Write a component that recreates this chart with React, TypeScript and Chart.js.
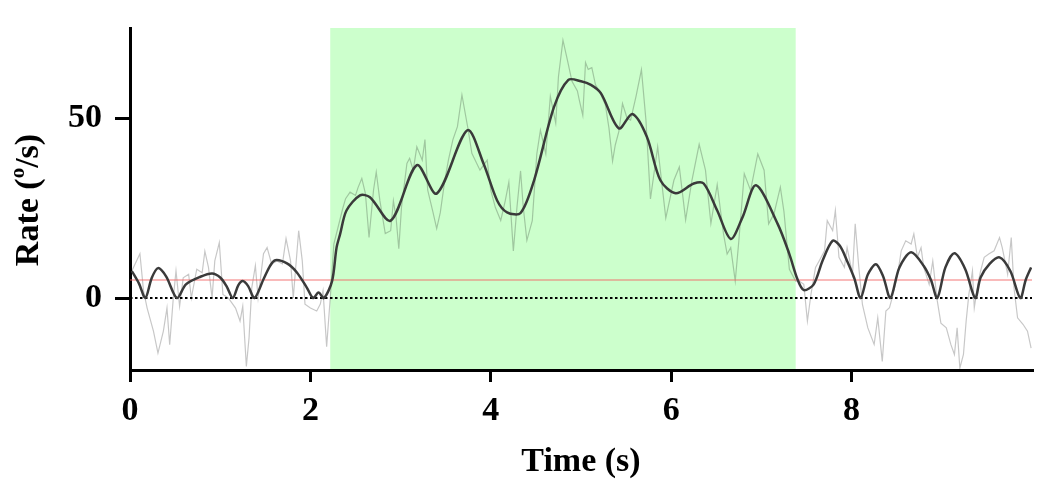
import React, { useEffect, useRef } from "react";
import { Chart, registerables } from "chart.js";

Chart.register(...registerables);

// ---- data ----
const rawTime = [
  0.02, 0.11, 0.15, 0.19, 0.26, 0.31, 0.37, 0.41, 0.44, 0.48, 0.51, 0.55, 0.59, 0.65, 0.68, 0.74, 0.8, 0.83, 0.87, 0.91,
  0.94, 0.99, 1.03, 1.09, 1.17, 1.22, 1.25, 1.29, 1.32, 1.35, 1.39, 1.42, 1.48, 1.52, 1.57, 1.63, 1.69, 1.73, 1.78, 1.81,
  1.87, 1.91, 1.94, 2.0, 2.07, 2.11, 2.14, 2.18, 2.22, 2.26, 2.31, 2.36, 2.39, 2.44, 2.5, 2.53, 2.57, 2.61, 2.65, 2.7,
  2.73, 2.77, 2.83, 2.89, 2.92, 2.95, 2.98, 3.01, 3.07, 3.1, 3.14, 3.18, 3.24, 3.27, 3.3, 3.36, 3.4, 3.44, 3.49, 3.53,
  3.58, 3.63, 3.68, 3.75, 3.79, 3.88, 3.96, 4.0, 4.05, 4.11, 4.16, 4.2, 4.25, 4.29, 4.33, 4.36, 4.4, 4.46, 4.51, 4.55,
  4.61, 4.66, 4.72, 4.75, 4.8, 4.85, 4.9, 4.96, 4.98, 5.02, 5.05, 5.08, 5.12, 5.16, 5.22, 5.27, 5.31, 5.35, 5.38, 5.42,
  5.46, 5.51, 5.55, 5.61, 5.67, 5.72, 5.77, 5.85, 5.94, 6.03, 6.09, 6.16, 6.23, 6.31, 6.38, 6.44, 6.51, 6.58, 6.62, 6.66,
  6.71, 6.75, 6.81, 6.88, 6.96, 7.03, 7.08, 7.14, 7.21, 7.25, 7.31, 7.38, 7.42, 7.47, 7.51, 7.55, 7.6, 7.64, 7.7, 7.73,
  7.79, 7.82, 7.86, 7.92, 7.95, 8.01, 8.04, 8.08, 8.12, 8.18, 8.25, 8.29, 8.34, 8.38, 8.42, 8.46, 8.51, 8.55, 8.6, 8.66,
  8.69, 8.73, 8.77, 8.8, 8.86, 8.9, 8.95, 8.99, 9.05, 9.1, 9.14, 9.17, 9.2, 9.24, 9.27, 9.3, 9.34, 9.36, 9.4, 9.43,
  9.47, 9.52, 9.58, 9.64, 9.67, 9.73, 9.77, 9.8, 9.84, 9.9, 9.95, 9.99,
];
const rawRate = [
  7.5, 12.3, 2, -2.8, -9.2, -15.3, -9.2, -2.8, -13, 0, 7.5, -2.3, 5.6, 6.6, 0, 8, 7, 13, 8.5, 0,
  10.3, 15.4, 1, 0, -2.8, -6.4, -2.3, -19, -11, 2.8, 9, 0, 12.3, 14, 9.5, 10.3, 9.5, 16.5, 10.3, 0,
  18.7, 10.3, -1.7, -2.8, -3.6, -1.7, 2, -13.5, 0, 15, 20, 25, 27.6, 29.4, 28.5, 30.8, 33.2, 29, 16.8, 30,
  35, 27.1, 17.9, 18.7, 27, 22.3, 13.7, 25.2, 37.4, 38.8, 35.5, 42, 38.3, 44, 30, 23.7, 19.3, 23.7, 32.7, 38.3,
  44, 47.6, 56.4, 46.6, 40.2, 35.5, 38.3, 29.9, 25.2, 21.5, 27, 32.2, 13.1, 25.2, 35.3, 25.2, 16, 21.5, 40, 46.6,
  40, 56, 48.6, 61.5, 71.6, 66, 60.2, 57.5, 55.1, 50.7, 65.4, 63.5, 64, 59.3, 56.5, 53.7, 47.2, 38, 42.5, 46.3,
  54, 50, 49.4, 56, 63.4, 49.4, 27.5, 42, 22.2, 32.7, 36.4, 21.7, 32.7, 42.7, 35.5, 20.7, 31.5, 17.8, 12.2, 14,
  4.7, 15.9, 34.5, 29.9, 40, 35.5, 20.6, 23.4, 30.8, 24, 8, 4.7, 4.7, 3.8, -6.4, 1.1, 8.5, 10.3, 13.1, 21.5,
  18.7, 24.3, 11.3, 8.5, 14, 6.6, 20.6, 8.5, -1.8, -8.3, -12.9, -5.5, -17.6, -3.6, -2.7, 1, 6.6, 13.1, 15.9, 15,
  17.8, 11.3, 14, 8.5, 3.8, 10.3, -0.8, -7, -8.3, -12.9, -15.7, -8.3, -19.5, -15.7, -6.4, 1, 7.5, -2.7, 3.8, 7.5,
  11.3, 12.2, 13.1, 16.8, 14, 6.6, 16.8, 2.9, -5.5, -7.3, -9.2, -13.9,
];

const smoothTime = [
  0.02, 0.1, 0.17, 0.24, 0.31, 0.4, 0.52, 0.62, 0.78, 0.91, 1.0, 1.07, 1.14, 1.2, 1.25, 1.31, 1.38, 1.48, 1.55, 1.61,
  1.74, 1.85, 1.96, 2.03, 2.09, 2.15, 2.24, 2.29, 2.33, 2.4, 2.55, 2.66, 2.89, 3.18, 3.4, 3.74, 3.92, 4.07, 4.18, 4.33,
  4.48, 4.7, 4.86, 5.0, 5.11, 5.22, 5.42, 5.57, 5.73, 5.88, 6.05, 6.25, 6.36, 6.51, 6.66, 6.79, 6.94, 7.18, 7.31, 7.4,
  7.47, 7.58, 7.68, 7.79, 7.87, 7.95, 8.03, 8.1, 8.18, 8.27, 8.35, 8.43, 8.53, 8.66, 8.8, 8.88, 8.95, 9.04, 9.14, 9.26,
  9.37, 9.43, 9.53, 9.64, 9.76, 9.87, 9.93, 9.99,
];
const smoothRate = [
  7.5, 4.0, 0, 5.5, 8.3, 6.0, 0, 3.8, 5.9, 6.8, 5.7, 3.3, 0, 3.5, 4.7, 3.3, 0, 5.2, 8.8, 10.5,
  9.6, 7.1, 2.9, 0, 1.5, 0, 4.7, 14, 17.8, 24.3, 28.5, 28, 21.5, 36.9, 29, 46.6, 37.3, 27.1, 23.8, 23.6,
  32.7, 53, 60.6, 60.2, 59.2, 56.9, 47.1, 51.1, 44.8, 32.7, 29.1, 31.8, 31.8, 24.3, 16.4, 22.4, 31.3, 20.6, 12.2, 5.2,
  2.2, 3.8, 10.5, 15.9, 14.5, 10.3, 5.5, 0, 6.5, 9.4, 6.0, 0, 8.5, 12.7, 8.9, 5, 0, 8.5, 12.4, 8.0,
  0, 5.7, 9.5, 11.3, 7.5, 0, 5, 8.5,
];

const xTicks = [0, 2, 4, 6, 8];
const yTicks = [0, 50];
const xMin = 0;
const xMax = 10;
const yMin = -20;
const yMax = 75;
const stimStart = 2.22;
const stimEnd = 7.38;
const thresholdRate = 5;
const baselineRate = 0;

const FONT = '"Liberation Serif", "Times New Roman", serif';

const stimPlugin = {
  id: "stimBand",
  beforeDraw(chart: any) {
    const { ctx, chartArea, scales } = chart;
    const x1 = scales.x.getPixelForValue(stimStart);
    const x2 = scales.x.getPixelForValue(stimEnd);
    ctx.save();
    ctx.fillStyle = "rgb(204,255,204)";
    ctx.fillRect(x1, chartArea.top, x2 - x1, chartArea.bottom - chartArea.top);
    ctx.restore();
  },
};

const yTitlePlugin = {
  id: "yTitle",
  afterDraw(chart: any) {
    const { ctx } = chart;
    const big = `bold 34px ${FONT}`;
    const small = `bold 21px ${FONT}`;
    const p1 = "Rate (";
    const p2 = "o";
    const p3 = "/s)";
    ctx.save();
    ctx.font = big;
    const w1 = ctx.measureText(p1).width;
    const w3 = ctx.measureText(p3).width;
    ctx.font = small;
    const w2 = ctx.measureText(p2).width;
    const total = w1 + w2 + w3;
    ctx.translate(29, 200);
    ctx.rotate(-Math.PI / 2);
    ctx.fillStyle = "#000";
    ctx.textBaseline = "middle";
    ctx.textAlign = "left";
    let x = -total / 2;
    ctx.font = big;
    ctx.fillText(p1, x, 0);
    x += w1;
    ctx.font = small;
    ctx.fillText(p2, x, -10);
    x += w2;
    ctx.font = big;
    ctx.fillText(p3, x, 0);
    ctx.restore();
  },
};

export default function App() {
  const ref = useRef<HTMLCanvasElement>(null);

  useEffect(() => {
    if (!ref.current) return;
    const raw = rawTime.map((t, i) => ({ x: t, y: rawRate[i] }));
    const smooth = smoothTime.map((t, i) => ({ x: t, y: smoothRate[i] }));
    const thr = [
      { x: xMin, y: thresholdRate },
      { x: xMax, y: thresholdRate },
    ];
    const base = [
      { x: xMin, y: baselineRate },
      { x: xMax, y: baselineRate },
    ];
    const tickFont = { family: FONT, weight: "bold" as const, size: 34 };
    const chart = new Chart(ref.current, {
      type: "line",
      data: {
        datasets: [
          { data: smooth, borderColor: "#3a3a3a", borderWidth: 2.5, tension: 0.3, pointRadius: 0 },
          { data: thr, borderColor: "rgba(240,100,100,0.6)", borderWidth: 1.5, pointRadius: 0 },
          { data: base, borderColor: "#000", borderWidth: 2, borderDash: [2.5, 2.5], pointRadius: 0 },
          { data: raw, borderColor: "rgba(0,0,0,0.22)", borderWidth: 1.2, tension: 0, pointRadius: 0 },
        ],
      },
      options: {
        animation: false,
        responsive: false,
        devicePixelRatio: 1,
        events: [],
        layout: { padding: { top: 28, right: 18, left: 0, bottom: 0 } },
        plugins: { legend: { display: false }, tooltip: { enabled: false }, title: { display: false } },
        scales: {
          x: {
            type: "linear",
            min: xMin,
            max: xMax,
            afterBuildTicks: (s: any) => {
              s.ticks = xTicks.map((v) => ({ value: v }));
            },
            afterFit: (s: any) => {
              s.height = 115;
              s.paddingLeft = 0;
              s.paddingRight = 0;
            },
            ticks: { font: tickFont, color: "#000", padding: 9, maxRotation: 0, autoSkip: false },
            grid: { drawOnChartArea: false, drawTicks: true, tickLength: 12, tickColor: "#000", tickWidth: 3, lineWidth: 3, color: "#000" },
            border: { display: true, color: "#000", width: 3 },
            title: { display: true, text: "Time (s)", color: "#000", font: { family: FONT, weight: "bold", size: 34 }, padding: { top: 4, bottom: 2 } },
          },
          y: {
            type: "linear",
            min: yMin,
            max: yMax,
            afterBuildTicks: (s: any) => {
              s.ticks = yTicks.map((v) => ({ value: v }));
            },
            afterFit: (s: any) => {
              s.width = 130;
              s.paddingTop = 0;
              s.paddingBottom = 0;
            },
            ticks: { font: tickFont, color: "#000", padding: 13 },
            grid: { drawOnChartArea: false, drawTicks: true, tickLength: 15, tickColor: "#000", tickWidth: 3, lineWidth: 3, color: "#000" },
            border: { display: true, color: "#000", width: 3 },
          },
        },
      },
      plugins: [stimPlugin, yTitlePlugin],
    });
    return () => chart.destroy();
  }, []);

  return (
    <div style={{ position: "fixed", left: 0, top: 0, width: 1050, height: 485, background: "#fff" }}>
      <canvas ref={ref} width={1050} height={485} style={{ width: 1050, height: 485 }} />
    </div>
  );
}
